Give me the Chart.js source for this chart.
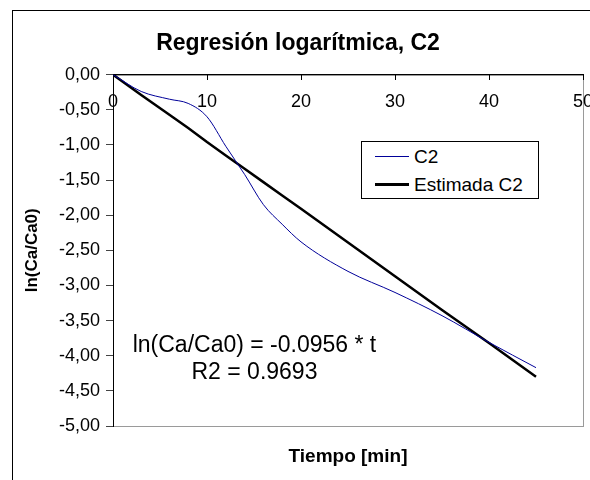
<!DOCTYPE html>
<html>
<head>
<meta charset="utf-8">
<script src="https://cdn.jsdelivr.net/npm/chart.js@4.4.1/dist/chart.umd.min.js"></script>
<style>
  html, body { margin: 0; padding: 0; width: 590px; height: 480px; overflow: hidden; background: #fff; }
  body { font-family: Arial, "Liberation Sans", sans-serif; }
  #frame { position: absolute; left: 12px; top: 10px; width: 590px; height: 480px; border: 1px solid #000; }
  #frame canvas { display: block; }
  #legend { position: absolute; left: 361px; top: 141px; width: 176px; height: 56px;
            border: 1px solid #000; background: #fff; font-size: 19px; color: #000; }
  #legend .row { position: absolute; left: 0; height: 22px; line-height: 22px; white-space: nowrap; }
  #legend .swatch { position: absolute; left: 13px; width: 34px; }
  #legend .lbl { position: absolute; left: 52px; }
</style>
</head>
<body>
<div id="frame"><canvas id="chart" width="590" height="480"></canvas></div>
<div id="legend"></div>
<script>
// tiempo (min) y ln(Ca/Ca0)
const tiempo = [0, 3, 6, 8, 10, 12, 14, 16, 18, 20, 25, 30, 35, 40, 45];
const lnC2 = [0, -0.24, -0.35, -0.41, -0.60, -1.02, -1.42, -1.85, -2.13, -2.38, -2.80, -3.10, -3.43, -3.81, -4.17];
const lnEstimada = [0, -0.29, -0.57, -0.76, -0.96, -1.15, -1.34, -1.53, -1.72, -1.91, -2.39, -2.87, -3.35, -3.82, -4.30];

const xTicks = [0, 10, 20, 30, 40, 50];
const yMin = -5, yMax = 0, yStep = 0.5;

const ecuacion = ['ln(Ca/Ca0) = -0.0956 * t', 'R2 = 0.9693'];
const ecuacionPos = { x: 15.05, y: [-3.86, -4.24] };

const FONT = 'Arial, "Liberation Sans", sans-serif';
const toPoints = ys => tiempo.map((t, i) => ({ x: t, y: ys[i] }));

// gray plot frame (right + bottom show, axes cover the rest)
const plotFrame = {
  id: 'plotFrame',
  beforeDraw(chart) {
    const { ctx, chartArea: a } = chart;
    ctx.save();
    ctx.strokeStyle = '#9a9a9a';
    ctx.lineWidth = 1;
    ctx.strokeRect(Math.round(a.left) + 0.5, Math.round(a.top) + 0.5,
                   Math.round(a.right - a.left), Math.round(a.bottom - a.top));
    ctx.restore();
  }
};

// trendline equation text
const trendText = {
  id: 'trendText',
  afterDatasetsDraw(chart) {
    const { ctx, scales } = chart;
    ctx.save();
    ctx.font = '23px ' + FONT;
    ctx.fillStyle = '#000';
    ctx.textAlign = 'center';
    ctx.textBaseline = 'middle';
    const px = scales.x.getPixelForValue(ecuacionPos.x);
    ecuacion.forEach((line, i) => {
      ctx.fillText(line, px, scales.y.getPixelForValue(ecuacionPos.y[i]));
    });
    ctx.restore();
  }
};

const chart = new Chart(document.getElementById('chart'), {
  type: 'line',
  data: {
    datasets: [
      {
        label: 'C2',
        data: toPoints(lnC2),
        borderColor: '#000099',
        borderWidth: 1,
        pointRadius: 0,
        tension: 0.4,
        cubicInterpolationMode: 'monotone'
      },
      {
        label: 'Estimada C2',
        data: toPoints(lnEstimada),
        borderColor: '#000',
        borderWidth: 2.5,
        pointRadius: 0,
        tension: 0
      }
    ]
  },
  options: {
    responsive: false,
    animation: false,
    events: [],
    layout: { padding: { left: 0, right: 20, top: 0, bottom: 0 } },
    plugins: {
      legend: { display: false },
      tooltip: { enabled: false },
      title: {
        display: true,
        text: 'Regresión logarítmica, C2',
        color: '#000',
        font: { family: FONT, size: 23, weight: 'bold' },
        padding: { top: 19, bottom: 17 }
      }
    },
    scales: {
      x: {
        type: 'linear',
        position: { y: 0 },
        min: xTicks[0],
        max: xTicks[xTicks.length - 1],
        afterBuildTicks: s => { s.ticks = xTicks.map(v => ({ value: v })); },
        // labels may hang past the plot edge like in Excel
        afterFit: s => { s.paddingLeft = 0; s.paddingRight = 0; },
        grid: { drawOnChartArea: false, drawTicks: true, tickLength: 5, color: '#000' },
        border: { display: true, color: '#000', width: 1 },
        ticks: {
          autoSkip: false, maxRotation: 0, padding: 12, color: '#000',
          font: { family: FONT, size: 18 }
        }
      },
      xTitle: {
        type: 'linear',
        axis: 'x',
        position: 'bottom',
        grid: { display: false },
        border: { display: false },
        ticks: { display: false },
        afterFit: s => { s.height = 65; s.paddingLeft = 0; s.paddingRight = 0; },
        title: {
          display: true,
          text: 'Tiempo [min]',
          color: '#000',
          font: { family: FONT, size: 19, weight: 'bold' },
          padding: { top: 0, bottom: 23 }
        }
      },
      y: {
        type: 'linear',
        position: 'left',
        min: yMin,
        max: yMax,
        ticks: {
          stepSize: yStep, padding: 6, color: '#000',
          font: { family: FONT, size: 18 },
          callback: v => (Math.abs(v) < 1e-9 ? 0 : v).toFixed(2).replace('.', ',')
        },
        grid: { drawOnChartArea: false, drawTicks: true, tickLength: 7, color: '#444' },
        border: { display: true, color: '#000', width: 1 },
        afterFit: s => { s.width = 100; },
        title: {
          display: true,
          text: 'ln(Ca/Ca0)',
          color: '#000',
          font: { family: FONT, size: 17, weight: 'bold' },
          padding: { top: 9, bottom: 0 }
        }
      }
    }
  },
  plugins: [plotFrame, trendText]
});

// legend box built from the datasets
const legend = document.getElementById('legend');
chart.data.datasets.forEach((ds, i) => {
  const row = document.createElement('div');
  row.className = 'row';
  row.style.top = (4 + i * 28) + 'px';
  const sw = document.createElement('span');
  sw.className = 'swatch';
  sw.style.top = (11 - Math.ceil(ds.borderWidth / 2)) + 'px';
  sw.style.borderTop = Math.round(ds.borderWidth) + 'px solid ' + ds.borderColor;
  const lbl = document.createElement('span');
  lbl.className = 'lbl';
  lbl.textContent = ds.label;
  row.appendChild(sw);
  row.appendChild(lbl);
  legend.appendChild(row);
});
</script>
</body>
</html>
